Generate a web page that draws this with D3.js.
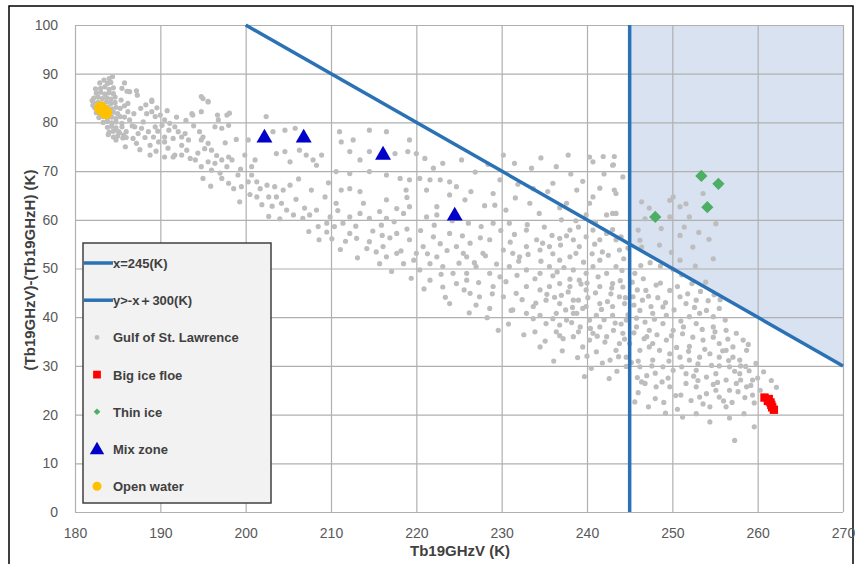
<!DOCTYPE html>
<html><head><meta charset="utf-8">
<script src="https://cdn.jsdelivr.net/npm/d3@7"></script>
<style>body{margin:0;background:#fff}svg{display:block}</style>
</head><body><svg id="c" width="855" height="564"></svg>
<script>
const xTicks=[180,190,200,210,220,230,240,250,260,270];
const yTicks=[0,10,20,30,40,50,60,70,80,90,100];
const xLine=245;
const diagLine=[[200,100],[270,30]];
const shadeArea=[[245,100],[270,100],[270,30],[245,55]];
const openWater=[[183.3,82.5],[183.0,83.0],[183.6,82.0]];
const mixZone=[[202.2,77.0],[206.8,77.0],[216.1,73.5],[224.5,61.0]];
const thinIce=[[253.4,69.0],[255.4,67.4],[254.1,62.6],[248.0,60.6]];
const bigFloe=[[260.8,23.5],[261.3,23.2],[261.2,22.8],[261.5,22.5],[261.7,21.5],[261.9,21.0],[261.6,22.0]];
const gulf=[
[184.0,89],[183.8,88],[184.2,88.2],[183.0,87],[183.5,87.3],[184.0,86.8],[184.5,87.1],
[182.5,86],[183.0,86.2],[183.5,85.8],[184.0,86.1],[184.5,85.9],
[182.2,85],[182.7,85.2],[183.2,84.9],[183.7,85.1],[184.2,84.8],[184.7,85.2],
[182.2,84],[182.7,84.1],[183.2,83.8],[183.7,84.2],[184.2,83.9],[184.7,84.1],
[182.3,83],[182.8,83.2],[183.3,82.9],[183.8,83.1],[184.3,82.8],[184.8,83.1],[185.3,82.9],
[182.5,82],[183.0,81.8],[183.5,82.2],[184.0,81.9],[184.5,82.1],[185.0,81.8],
[182.8,81],[183.3,81.2],[183.8,80.9],[184.3,81.1],[184.8,80.8],[185.3,81.2],
[183.3,80],[183.8,80.2],[184.3,79.9],[184.8,80.1],[185.5,79.8],
[183.8,79],[184.3,79.2],[184.8,78.9],[185.5,79.1],
[184.0,78],[184.5,78.2],[185.2,77.9],[186.0,78.1],[184.5,77],[185.0,77.2],[186.0,76.9],
[182.4,86.9],[182.9,88.1],[183.4,88.7],[184.4,89.4],[182.1,83.5],[182.0,84.5],[183.9,77.5],
[184.8,76.4],[185.6,76.8],[185.8,83.4],[186.2,82.2],
[185.5,87.0],[186.4,86.3],[187.2,86.5],[187.3,85.6],[186.2,83.9],[189.0,84.3],
[188.4,81.8],[189.0,82.2],[189.4,81.2],[190.0,81.5],[190.5,80.5],[190.2,79.4],[191.1,79.8],
[191.7,79.1],[192.1,78.1],[192.5,77.0],[191.5,76.7],[190.5,76.0],[189.8,76.0],[189.2,77.0],
[188.6,78.1],[187.8,78.8],[187.4,77.7],[186.8,76.7],[185.9,75.0],[187.2,75.7],[188.0,80.1],
[188.8,73.3],[185.7,77.4],[185.1,78.1],[187.0,79.1],[190.5,72.9],[191.7,73.3],[192.5,73.3],
[193.5,72.6],[194.1,72.3],[194.8,70.9],[195.6,71.9],[196.4,71.6],[197.2,72.3],[198.0,72.9],
[198.4,72.3],[197.8,70.9],[196.0,70.2],[194.8,76.4],[195.6,75.7],[195.2,74.6],[196.0,74.3],
[195.0,77.0],[194.6,78.1],[196.4,79.1],[197.2,78.8],[198.0,79.4],[196.8,80.5],[197.8,81.5],
[194.8,82.2],[193.7,81.8],[195.0,84.9],[195.6,84.2],[189.0,84.6],[191.5,72.9],[195.0,68.5],
[197.2,68.5],[198.0,67.5],[198.6,66.4],[199.1,69.2],[199.5,66.8],[200.3,67.8],[200.7,69.2],
[201.3,67.8],[201.7,66.4],[202.5,67.1],[201.3,64.7],[202.7,64.7],[200.3,76.4],[201.1,72.3],
[200.7,70.9],[199.9,73.3],[188.8,75.3],[192.5,75.3],[193.3,76.4],[192.9,77.7],[190.5,77.0],
[186.4,80.5],[189.4,79.1],
[186.9,81.8],[187.7,82.9],[188.3,83.6],[189.6,83.0],[190.8,82.4],[191.9,81.1],[193.0,80.4],
[193.9,79.3],[191.0,78.4],[189.7,78.2],[188.2,76.9],[187.6,74.4],[189.5,74.1],[190.9,74.7],
[193.1,74.3],[194.4,73.7],[196.6,73.2],[197.6,75.8],[198.9,76.5],[199.4,70.4],[197.0,69.6],
[195.9,66.9],[185.8,81.1],[186.7,79.3],[185.4,84.6],[186.1,86.4],[185.8,88.1],
[194.8,85.3],[195.6,84.3],[193.8,81.5],[196.7,81.5],[198.1,81.9],[202.4,81.2],
[203.2,78.1],[204.6,78.4],[205.8,78.8],[203.6,73.6],[204.6,74.0],[205.2,71.9],[206.3,74.3],
[207.1,73.3],[207.9,72.3],[208.9,73.3],[208.3,71.2],[203.4,66.8],[204.4,66.1],[205.2,67.1],
[207.7,66.1],[203.6,64.7],[204.2,63.4],[204.8,62.0],[205.6,61.0],[206.7,60.3],[207.5,61.0],
[208.5,58.6],[209.5,59.3],[210.4,58.6],[211.0,78.1],[211.2,76.0],[212.2,74.0],[213.4,72.3],
[214.5,78.4],[212.6,76.4],[214.5,74.0],[217.5,73.6],[219.0,74.0],[219.2,76.4],[216.5,78.1],
[220.0,73.6],[221.0,72.6],[222.0,70.6],[223.1,71.6],[210.6,69.9],[212.2,69.5],[214.5,69.9],
[216.5,69.2],[218.1,68.5],[219.2,68.2],[220.4,68.5],[221.6,68.2],[222.8,68.2],[223.9,67.8],
[211.2,66.1],[212.2,66.4],[213.4,65.8],[218.8,66.1],[221.2,66.1],[223.9,65.1],[222.4,62.7],
[210.6,63.4],[213.4,61.3],[212.2,60.6],[214.5,60.3],[215.7,61.7],[216.5,60.3],[217.7,62.3],
[218.5,61.3],[219.2,62.7],[216.5,64.1],[221.2,60.6],[222.4,61.0],[212.2,57.2],[213.0,56.2],
[214.5,55.5],[214.2,54.1],[215.3,53.4],[216.1,54.5],[216.5,52.4],[215.7,51.0],[217.7,53.1],
[218.5,51.0],[217.7,57.2],[219.2,55.9],[220.0,53.1],[220.8,54.5],[222.0,56.5],[222.8,55.1],
[223.9,57.2],[224.7,54.5],[225.5,53.1],[222.4,52.4],[221.6,51.0],[223.1,50.4],[224.3,49.0],
[220.4,49.7],[221.6,47.6],[223.1,46.2],[224.7,46.9],[225.9,49.0],[208.3,62.0],[209.9,60.6],
[209.5,57.5],[211.4,59.3],[225.3,72.3],[224.7,66.8],[225.7,64.1],
[203.1,62.8],[204.0,60.2],[205.9,64.2],[206.9,62.4],[207.4,57.6],[208.6,55.9],[209.3,64.7],
[210.1,56.1],[211.1,53.9],[201.9,63.1],[200.5,65.2],[199.3,63.7],[202.7,60.7],[206.2,68.4],[209.7,67.6],
[210.8,61.9],[211.7,55.6],[212.9,58.7],[213.8,63.4],[214.9,57.7],[215.9,58.9],[216.9,56.3],
[217.4,59.6],[218.2,53.6],[218.9,58.1],[219.7,51.7],[220.5,57.8],[221.3,53.0],[222.1,58.9],
[222.9,48.8],[223.6,53.7],[224.2,59.8],[225.0,51.1],[225.4,56.7],[219.4,48.0],[220.9,45.8],
[223.4,44.1],[217.1,49.4],[216.0,56.8],[218.9,64.6],[213.1,52.2],
[230.2,73.3],[231.5,71.6],[233.5,70.6],[236.4,70.9],[237.8,73.3],[240.7,71.9],[241.9,73.0],
[243.2,73.0],[243.1,71.3],[226.4,65.8],[229.0,65.4],[229.2,63.0],[230.5,62.0],[233.3,63.4],
[235.4,65.8],[236.0,67.5],[238.8,66.1],[241.5,66.5],[243.2,66.1],[240.3,63.4],[237.6,63.4],
[243.4,61.3],[242.3,61.0],[239.9,61.0],[226.1,59.3],[227.6,58.6],[229.0,59.3],[230.9,59.3],
[232.9,57.9],[234.1,55.9],[234.8,55.2],[234.5,53.8],[235.6,54.5],[236.8,56.2],[238.0,57.9],
[238.4,55.9],[239.1,54.5],[239.9,56.5],[240.7,57.9],[241.5,55.9],[242.3,57.2],[243.4,55.9],
[243.8,53.8],[232.9,54.5],[232.1,52.4],[231.3,53.1],[230.2,53.8],[228.6,55.9],[227.8,53.1],
[226.3,55.2],[225.9,52.4],[227.0,50.4],[228.6,49.0],[229.8,48.3],[230.9,50.4],[232.9,49.7],
[234.5,49.0],[235.6,50.4],[236.8,51.7],[238.0,52.4],[238.4,49.7],[239.1,47.6],[239.9,49.0],
[240.7,50.4],[241.5,51.7],[242.3,49.0],[243.4,50.4],[243.0,46.9],[241.5,46.3],[239.9,45.6],
[238.0,46.3],[236.8,46.9],[235.6,46.3],[234.5,45.6],[232.9,46.3],[231.7,44.9],[230.2,44.2],
[229.0,46.3],[227.4,44.2],[226.3,44.9],[225.9,47.6],[235.2,43.5],[236.8,42.8],[238.4,43.5],
[239.9,42.2],[241.5,42.8],[243.0,42.2],[243.8,44.2],[233.7,42.2],[231.3,41.5],[238.8,40.8],
[241.1,40.4],[243.0,40.4],[236.4,40.8],
[226.9,69.8],[228.4,71.4],[229.8,68.2],[231.9,67.3],[233.7,66.4],[234.6,72.7],[238.1,69.4],
[239.5,67.9],[242.0,69.4],[244.2,68.8],[228.0,62.9],[231.6,64.5],[234.4,61.3],[236.8,62.5],[238.7,59.8],
[226.8,51.2],[227.3,47.1],[228.1,52.6],[228.9,44.8],[229.4,50.9],[230.5,47.3],[231.0,55.4],
[231.8,48.6],[232.4,43.6],[233.1,52.9],[233.9,47.9],[234.6,51.5],[235.3,44.7],[235.9,56.8],
[236.5,49.3],[227.5,56.3],[229.9,57.8],[228.3,39.9],[230.8,38.6],[232.6,36.4],[234.0,42.9],
[235.1,35.1],[236.2,44.1],[227.0,42.5],[225.6,45.6],[226.2,40.9],
[223.9,42.8],[228.6,41.8],[231.1,41.4],[232.9,40.8],[233.7,39.7],[234.5,40.4],[235.2,38.7],
[236.0,39.7],[236.8,38.4],[237.6,39.4],[238.4,40.8],[239.2,38.0],[240.3,39.4],[240.7,36.7],
[241.5,38.0],[242.3,36.0],[243.1,37.3],[243.8,34.6],[244.2,36.7],[233.9,37.0],[237.2,35.6],
[234.5,33.9],[239.5,33.9],[241.1,32.9],[242.7,31.2],[243.4,33.2],[240.5,29.5],[229.6,37.3],
[236.4,37.0],[238.4,36.0],[240.3,35.3],
[236.9,54.8],[237.3,50.2],[237.8,45.2],[238.2,38.9],[238.7,53.1],[239.3,46.8],[239.6,51.3],
[240.1,44.0],[240.4,37.7],[240.9,55.0],[241.3,48.3],[241.7,41.6],[242.1,34.9],[242.5,52.7],
[242.9,46.0],[243.3,38.8],[243.7,31.9],[244.1,49.6],[244.4,42.8],[244.8,54.2],[237.1,33.1],
[238.9,31.7],[240.0,32.0],[241.8,30.6],[243.5,28.9],[244.6,29.9],[239.7,27.8],[242.6,27.4],
[236.1,31.0],[241.2,36.1],[243.9,47.5],[238.3,42.0],[240.6,53.0],[242.4,43.2],[239.0,37.0],
[244.3,52.0],[237.6,56.7],[236.8,36.2],
[244.2,46.2],[245.4,44.2],[246.9,45.5],[248.1,46.6],[249.7,45.5],[250.9,44.2],[251.6,42.8],
[252.8,43.5],[254.0,41.4],[253.2,40.8],[254.8,40.1],[255.5,41.8],[252.0,40.1],[248.9,42.1],
[247.7,40.8],[246.2,41.4],[244.6,39.4],[245.8,38.0],[247.3,37.3],[248.9,38.7],[250.1,37.3],
[251.2,36.6],[252.4,35.9],[253.6,35.3],[254.8,35.9],[255.5,34.6],[256.3,33.2],[257.1,31.8],
[257.9,31.2],[258.7,33.2],[255.5,31.8],[254.4,32.5],[253.2,31.8],[252.0,31.2],[250.9,31.8],
[249.7,32.5],[248.5,33.2],[247.3,33.9],[246.2,33.2],[245.0,34.6],[244.6,31.8],[246.2,29.8],
[247.7,31.2],[248.9,29.8],[250.1,29.1],[251.6,28.4],[252.8,29.1],[254.0,27.7],[255.1,28.4],
[256.3,27.1],[257.5,26.4],[258.7,25.7],[259.4,27.1],[257.9,28.4],[256.7,29.8],[255.1,25.0],
[254.0,24.3],[252.8,25.7],[251.6,26.4],[249.7,25.7],[248.1,25.7],[253.2,23.6],[255.5,23.6],
[256.7,25.0],[254.4,21.6],[256.3,21.6],[251.2,19.5],[252.8,20.2],[254.4,18.5],[257.3,14.7],
[259.6,17.5],[259.4,24.0],[258.3,35.3],[257.1,33.9],[252.8,38.7],[254.8,38.0],[256.3,37.3],
[247.7,34.6],[249.3,35.3],[246.8,26.4],
[245.3,47.2],[245.9,45.6],[246.6,47.9],[247.2,44.3],[247.9,39.6],[248.6,47.0],[249.3,40.4],
[249.9,36.2],[250.6,46.3],[251.3,38.0],[251.8,44.8],[252.6,42.0],[253.3,45.3],[254.2,43.4],
[254.9,44.6],[245.2,30.7],[245.9,27.6],[246.7,35.6],[247.6,30.0],[248.2,36.4],[248.8,26.7],
[249.6,31.0],[250.4,23.9],[251.1,29.8],[251.9,33.0],[252.5,27.9],[253.0,30.4],[253.8,33.4],
[254.6,30.1],[255.3,26.6],[255.9,33.1],[256.6,31.1],[257.3,28.9],[258.0,27.1],[258.6,29.9],
[259.2,26.0],[259.8,30.5],[260.3,25.0],[257.7,24.7],[256.0,22.8],[254.8,26.2],[253.6,22.2],
[252.2,22.9],[250.6,21.1],[249.2,20.3],[248.0,23.3],[247.2,21.6],[246.4,26.7],[245.6,22.6],
[257.5,36.7],[258.9,34.4],[256.2,39.4],[255.6,43.6],[253.9,47.2],[252.3,46.9],[251.1,48.7],
[250.1,49.8],[248.6,50.5],[247.4,51.2],[246.3,50.6],[245.6,49.0],[260.7,28.8],[261.6,27.0],
[262.2,25.6],[259.6,22.4],[258.4,20.2],[256.7,19.3],
[246.4,63.7],[249.7,64.0],[250.1,64.7],[250.9,62.7],[251.6,63.3],[252.0,60.6],[253.6,65.4],
[255.1,59.2],[249.7,60.6],[246.0,57.9],[248.5,54.8],[250.9,56.8],[252.4,54.4],[254.8,52.0],
[246.2,55.8],[246.4,54.4],[250.9,51.7],[240.3,72.9],[243.0,71.2],[240.7,64.7],[243.4,65.4],
[243.0,61.3],[247.3,62.4],[248.7,58.2],[251.4,58.5],[253.1,57.4],[254.3,56.0],[246.8,60.2],
[249.9,53.3],[252.7,50.5],
[244.5,44],[245.5,42.5],[246.5,43.5],[244.8,40.5],[245.8,39.8],[246.8,39],[247.5,42.2],
[248.3,44],[249.2,43],[250.2,41.5],[251,39.2],[247,36],[245.5,36.8],[244.4,35.5],[246,31],
[248,28.5],[249.5,27.5],[250.5,33.8],[252,34],[253.5,37.5],[255,37],[256.5,35.5],[258,30],
[259,29],[260,27.5],[258.5,23.5],[257,22.5],[255.5,30],[253,27],[251,24],[249,22.5],[247,28],
[246,24.5],[237,44.5],[239,43.5],[241,45],[242.8,44.8],[238,47.8],[240,47],[236,48.5],
[237.5,41.5],[239.5,41.8],[242,39.5],[244,38.6],[231.5,57],[233,59],[235,58.5],[237,60],
[239,58.5],[241,59.5],[243,58],[244,56.5],[232,51.5],[236,53],[241.8,53.4]
];
const legendItems=["x=245(K)","y>-x＋300(K)","Gulf of St. Lawrence","Big ice floe","Thin ice","Mix zone","Open water"];

const svg=d3.select("#c");
const x=d3.scaleLinear().domain([180,270]).range([75,843]);
const y=d3.scaleLinear().domain([0,100]).range([512,25]);
const lineColor="#2a72b5";
const font="Liberation Sans, Arial, sans-serif";

svg.append("rect").attr("x",9).attr("y",6).attr("width",844).attr("height",570)
  .attr("fill","#fff").attr("stroke","#000").attr("stroke-width",1.5);

svg.append("path").datum(shadeArea)
  .attr("d",d3.line().x(d=>x(d[0])).y(d=>y(d[1])))
  .attr("fill","#d9e2f0");

const gx=svg.append("g").attr("transform","translate(0,512)")
  .call(d3.axisBottom(x).tickValues(xTicks).tickSize(-487).tickFormat(""));
const gy=svg.append("g").attr("transform","translate(75,0)")
  .call(d3.axisLeft(y).tickValues(yTicks).tickSize(-768).tickFormat(""));
[gx,gy].forEach(g=>{g.select(".domain").remove();g.selectAll("line").attr("stroke","#b0b0b0").attr("stroke-width",1.2);});

const lx=svg.append("g").attr("transform","translate(0,512)")
  .call(d3.axisBottom(x).tickValues(xTicks).tickSize(0).tickPadding(16).tickFormat(d3.format("d")));
const ly=svg.append("g").attr("transform","translate(75,0)")
  .call(d3.axisLeft(y).tickValues(yTicks).tickSize(0).tickPadding(17).tickFormat(d3.format("d")));
[lx,ly].forEach(g=>{g.select(".domain").remove();g.selectAll("text").attr("fill","#595959")
  .attr("font-family",font).attr("font-size",14);});

svg.append("g").selectAll("circle").data(gulf).join("circle")
  .attr("cx",d=>x(d[0])).attr("cy",d=>y(d[1])).attr("r",2.6).attr("fill","#bdbdbd");

svg.append("line").attr("x1",x(xLine)).attr("x2",x(xLine)).attr("y1",y(0)).attr("y2",y(100))
  .attr("stroke",lineColor).attr("stroke-width",3.5);
svg.append("path").datum(diagLine)
  .attr("d",d3.line().x(d=>x(d[0])).y(d=>y(d[1])))
  .attr("stroke",lineColor).attr("stroke-width",3.5).attr("fill","none");

svg.append("g").selectAll("circle").data(openWater).join("circle")
  .attr("cx",d=>x(d[0])).attr("cy",d=>y(d[1])).attr("r",6.5).attr("fill","#ffc000");
const sym=(t,s)=>d3.symbol().type(t).size(s)();
svg.append("g").selectAll("path").data(mixZone).join("path")
  .attr("transform",d=>`translate(${x(d[0])},${y(d[1])+1})`).attr("d",sym(d3.symbolTriangle,110)).attr("fill","#0000c8");
svg.append("g").selectAll("path").data(thinIce).join("path")
  .attr("transform",d=>`translate(${x(d[0])},${y(d[1])}) rotate(45)`).attr("d",sym(d3.symbolSquare,75)).attr("fill","#4caf64");
svg.append("g").selectAll("path").data(bigFloe).join("path")
  .attr("transform",d=>`translate(${x(d[0])},${y(d[1])})`).attr("d",sym(d3.symbolSquare,70)).attr("fill","#ff0000");

svg.append("text").attr("x",460).attr("y",556).attr("text-anchor","middle")
  .attr("font-family",font).attr("font-weight","bold").attr("font-size",15)
  .attr("fill","#404040").text("Tb19GHzV (K)");
svg.append("text").attr("transform","translate(35,270) rotate(-90)").attr("text-anchor","middle")
  .attr("font-family",font).attr("font-weight","bold").attr("font-size",15)
  .attr("fill","#404040").text("(Tb19GHzV)-(Tb19GHzH) (K)");

const lg=svg.append("g");
lg.append("rect").attr("x",83).attr("y",243).attr("width",188).attr("height",260)
  .attr("fill","#f2f2f2").attr("stroke","#404040").attr("stroke-width",1.5);
const ly0=263, dy=37.2;
legendItems.forEach((t,i)=>{
  lg.append("text").attr("x",113).attr("y",ly0+i*dy+5).attr("font-family",font)
    .attr("font-weight","bold").attr("font-size",13).attr("fill","#404040").text(t);
});
[0,1].forEach(i=>lg.append("line").attr("x1",84).attr("x2",113).attr("y1",ly0+i*dy).attr("y2",ly0+i*dy)
  .attr("stroke",lineColor).attr("stroke-width",3.5));
lg.append("circle").attr("cx",97).attr("cy",ly0+2*dy).attr("r",2.4).attr("fill","#bdbdbd");
lg.append("path").attr("transform",`translate(97,${ly0+3*dy})`).attr("d",sym(d3.symbolSquare,60)).attr("fill","#ff0000");
lg.append("path").attr("transform",`translate(97,${ly0+4*dy}) rotate(45)`).attr("d",sym(d3.symbolSquare,22)).attr("fill","#4caf64");
lg.append("path").attr("transform",`translate(97,${ly0+5*dy+1})`).attr("d",sym(d3.symbolTriangle,90)).attr("fill","#0000c8");
lg.append("circle").attr("cx",97).attr("cy",ly0+6*dy).attr("r",4.5).attr("fill","#ffc000");
</script></body></html>
